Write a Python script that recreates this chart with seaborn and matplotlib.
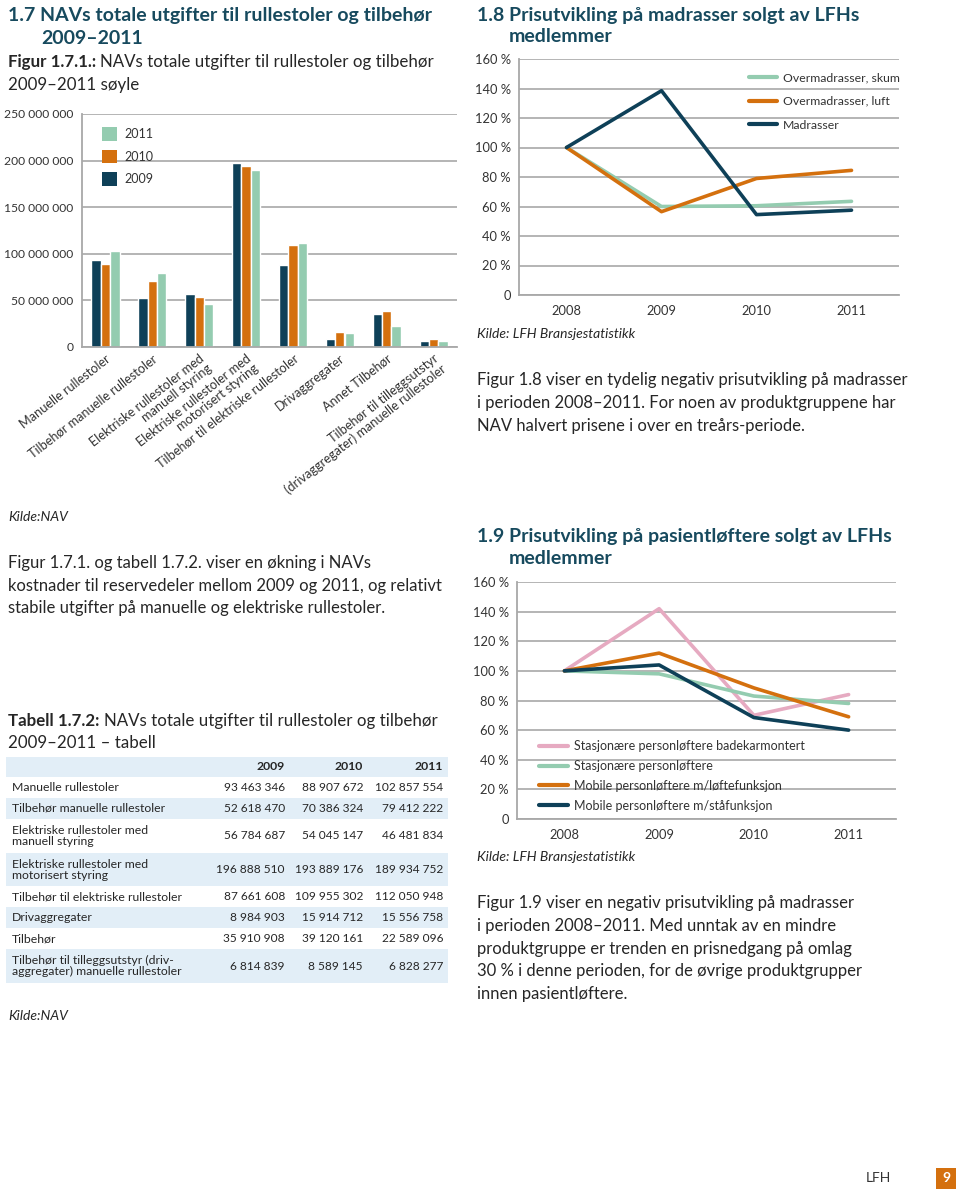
import numpy as np
import pandas as pd
import matplotlib
matplotlib.use("Agg")
import matplotlib.pyplot as plt
import seaborn as sns
from matplotlib.lines import Line2D
from matplotlib.patches import Rectangle
from matplotlib.ticker import FuncFormatter

sns.set_theme(style="white")
plt.rcParams["font.family"] = ["Lato", "DejaVu Sans"]

# ---------------- data ----------------
categories = [
    "Manuelle rullestoler",
    "Tilbehør manuelle rullestoler",
    "Elektriske rullestoler med\nmanuell styring",
    "Elektriske rullestoler med\nmotorisert styring",
    "Tilbehør til elektriske rullestoler",
    "Drivaggregater",
    "Annet Tilbehør",
    "Tilbehør til tilleggsutstyr\n(drivaggregater) manuelle rullestoler",
]
table_rows = [
    "Manuelle rullestoler",
    "Tilbehør manuelle rullestoler",
    "Elektriske rullestoler med\nmanuell styring",
    "Elektriske rullestoler med\nmotorisert styring",
    "Tilbehør til elektriske rullestoler",
    "Drivaggregater",
    "Tilbehør",
    "Tilbehør til tilleggsutstyr (driv-\naggregater) manuelle rullestoler",
]
bar_years = ["2009", "2010", "2011"]
v2009 = [93463346, 52618470, 56784687, 196888510, 87661608, 8984903, 35910908, 6814839]
v2010 = [88907672, 70386324, 54045147, 193889176, 109955302, 15914712, 39120161, 8589145]
v2011 = [102857554, 79412222, 46481834, 189934752, 112050948, 15556758, 22589096, 6828277]

line_years = ["2008", "2009", "2010", "2011"]
mad_names = ["Overmadrasser, skum", "Overmadrasser, luft", "Madrasser"]
mad_skum = [100, 60, 60.5, 63.5]
mad_luft = [100, 56.5, 79, 84.5]
madrasser = [100, 138.5, 54.5, 57.5]

loft_names = ["Stasjonære personløftere badekarmontert", "Stasjonære personløftere",
              "Mobile personløftere m/løftefunksjon", "Mobile personløftere m/ståfunksjon"]
loft_badekar = [100, 142, 70, 84]
loft_stasj = [100, 98, 83, 78]
loft_mob_lofte = [100, 112, 88.5, 69]
loft_mob_sta = [100, 104, 68.5, 60]

# ---------------- style ----------------
NAVY = "#0e4058"
ORANGE = "#d4700e"
GREEN = "#94ccb0"
PINK = "#e6aac1"
HEAD = "#174a5e"
TXT = "#262626"
GRID = "#a8a8a8"
ROWBG = "#e2eef7"

W, H = 960, 1193
fig = plt.figure(figsize=(W / 100, H / 100), dpi=100)
fig.patch.set_facecolor("white")
renderer = fig.canvas.get_renderer()


def ax_px(l, t, r, b):
    return fig.add_axes([l / W, 1 - b / H, (r - l) / W, (b - t) / H])


def txt(x, y, s, size=10.5, weight="normal", style="normal", color=TXT, ha="left"):
    return fig.text(x / W, 1 - y / H, s, fontsize=size, fontweight=weight,
                    fontstyle=style, color=color, ha=ha, va="center")


def rich(x, y, parts, size=10.5, color=TXT):
    cx = x
    for s, w in parts:
        t = txt(cx, y, s, size=size, weight=w, color=color)
        bb = t.get_window_extent(renderer=renderer)
        cx += bb.width


def style_axes(ax):
    for sp in ["top", "right"]:
        ax.spines[sp].set_visible(False)
    for sp in ["left", "bottom"]:
        ax.spines[sp].set_color(GRID)
        ax.spines[sp].set_linewidth(1.3)
    ax.grid(axis="y", color=GRID, lw=1.2)
    ax.grid(axis="x", visible=False)
    ax.set_axisbelow(True)
    ax.set_xlabel("")
    ax.set_ylabel("")
    ax.set_facecolor("white")


HS = 14.0   # heading size
FS = 12.2   # figure caption size
BS = 12.0   # body size
KS = 10.0   # source size

# ---------------- texts (left column) ----------------
txt(8, 16, "1.7 NAVs totale utgifter til rullestoler og tilbehør", size=HS, weight="bold", color=HEAD)
txt(41, 38, "2009–2011", size=HS, weight="bold", color=HEAD)
rich(8, 62, [("Figur 1.7.1.: ", "bold"), ("NAVs totale utgifter til rullestoler og tilbehør", "normal")], size=FS)
txt(8, 85, "2009–2011 søyle", size=FS)
txt(8, 517, "Kilde:NAV", size=KS, style="italic")
for i, line in enumerate(["Figur 1.7.1. og tabell 1.7.2. viser en økning i NAVs",
                          "kostnader til reservedeler mellom 2009 og 2011, og relativt",
                          "stabile utgifter på manuelle og elektriske rullestoler."]):
    txt(8, 563 + i * 22.5, line, size=BS)
rich(8, 721, [("Tabell 1.7.2: ", "bold"), ("NAVs totale utgifter til rullestoler og tilbehør", "normal")], size=FS)
txt(8, 743, "2009–2011 – tabell", size=FS)
txt(8, 1016, "Kilde:NAV", size=KS, style="italic")

# ---------------- texts (right column) ----------------
txt(477, 15, "1.8 Prisutvikling på madrasser solgt av LFHs", size=HS, weight="bold", color=HEAD)
txt(509, 37, "medlemmer", size=HS, weight="bold", color=HEAD)
txt(477, 334, "Kilde: LFH Bransjestatistikk", size=KS, style="italic")
for i, line in enumerate(["Figur 1.8 viser en tydelig negativ prisutvikling på madrasser",
                          "i perioden 2008–2011. For noen av produktgruppene har",
                          "NAV halvert prisene i over en treårs-periode."]):
    txt(477, 380 + i * 23, line, size=BS)
txt(477, 537, "1.9 Prisutvikling på pasientløftere solgt av LFHs", size=HS, weight="bold", color=HEAD)
txt(509, 559, "medlemmer", size=HS, weight="bold", color=HEAD)
txt(477, 857, "Kilde: LFH Bransjestatistikk", size=KS, style="italic")
for i, line in enumerate(["Figur 1.9 viser en negativ prisutvikling på madrasser",
                          "i perioden 2008–2011. Med unntak av en mindre",
                          "produktgruppe er trenden en prisnedgang på omlag",
                          "30 % i denne perioden, for de øvrige produktgrupper",
                          "innen pasientløftere."]):
    txt(477, 903 + i * 22.8, line, size=BS)

# footer
txt(878, 1178, "LFH", size=10, color="#333333", ha="center")
fig.patches.append(Rectangle((936 / W, 1 - 1189 / H), 20 / W, 21 / H, transform=fig.transFigure,
                             facecolor=ORANGE, edgecolor="none"))
txt(946, 1178, "9", size=10, weight="bold", color="white", ha="center")

# ---------------- bar chart ----------------
ax1 = ax_px(82, 114, 457, 347)
df_bar = pd.DataFrame({
    "kategori": categories * 3,
    "år": [y for y in bar_years for _ in categories],
    "verdi": v2009 + v2010 + v2011,
})
pal_bar = {"2009": NAVY, "2010": ORANGE, "2011": GREEN}
sns.barplot(data=df_bar, x="kategori", y="verdi", hue="år", hue_order=bar_years,
            palette=pal_bar, width=0.6, saturation=1, errorbar=None, legend=False, ax=ax1)
style_axes(ax1)
ax1.set_xlim(-0.5, len(categories) - 0.5)
ax1.set_ylim(0, 250e6)
ax1.set_yticks(np.arange(0, 250e6 + 1, 50e6))
ax1.yaxis.set_major_formatter(FuncFormatter(
    lambda v, p: "0" if v == 0 else f"{int(v):,}".replace(",", " ")))
ax1.set_xticks(range(len(categories)))
ax1.set_xticklabels(categories, rotation=38, ha="right", rotation_mode="anchor",
                    fontsize=9.2, color="#333333", linespacing=1.0)
ax1.set_xticks(np.arange(-0.5, len(categories)), minor=True)
ax1.tick_params(axis="x", which="major", length=0, pad=4)
ax1.tick_params(axis="x", which="minor", direction="in", length=5, color=GRID, width=1.2)
ax1.tick_params(axis="y", length=0, labelsize=8.7, labelcolor="#333333", pad=6)
leg_handles = [Rectangle((0, 0), 1, 1, facecolor=pal_bar[y], edgecolor="none") for y in ["2011", "2010", "2009"]]
ax1.legend(leg_handles, ["2011", "2010", "2009"], loc="upper left",
           bbox_to_anchor=(91 / W, 1 - 116 / H), bbox_transform=fig.transFigure,
           frameon=False, handlelength=1.15, handleheight=1.3, handletextpad=0.6,
           labelspacing=0.7, fontsize=9, labelcolor="#333333")


# ---------------- line charts ----------------
def line_chart(ax, names, vals, colors):
    df = pd.DataFrame({
        "x": list(range(len(line_years))) * len(names),
        "serie": [n for n in names for _ in line_years],
        "verdi": sum(vals, []),
    })
    sns.lineplot(data=df, x="x", y="verdi", hue="serie", hue_order=names,
                 palette=dict(zip(names, colors)), lw=2.6, legend=False, ax=ax, sort=False)
    style_axes(ax)
    ax.set_xlim(-0.5, len(line_years) - 0.5)
    ax.set_ylim(0, 160)
    ax.set_yticks(np.arange(0, 161, 20))
    ax.yaxis.set_major_formatter(FuncFormatter(lambda v, p: "0" if v == 0 else f"{int(v)} %"))
    ax.set_xticks(range(len(line_years)))
    ax.set_xticklabels(line_years)
    ax.set_xticks(np.arange(-0.5, len(line_years)), minor=True)
    ax.tick_params(axis="x", which="major", length=0, pad=7, labelsize=9.3, labelcolor="#333333")
    ax.tick_params(axis="x", which="minor", direction="in", length=5, color=GRID, width=1.2)
    ax.tick_params(axis="y", length=0, labelsize=9.3, labelcolor="#333333", pad=6)


ax2 = ax_px(519, 59, 899, 295)
mad_colors = [GREEN, ORANGE, NAVY]
line_chart(ax2, mad_names, [mad_skum, mad_luft, madrasser], mad_colors)
ax2.legend([Line2D([], [], color=c, lw=3) for c in mad_colors], mad_names,
           loc="upper left", bbox_to_anchor=(738 / W, 1 - 61 / H), bbox_transform=fig.transFigure,
           frameon=False, handlelength=2.3, handletextpad=0.5, labelspacing=1.05,
           fontsize=8.8, labelcolor="#333333")

ax3 = ax_px(517, 582, 896, 819)
loft_colors = [PINK, GREEN, ORANGE, NAVY]
line_chart(ax3, loft_names, [loft_badekar, loft_stasj, loft_mob_lofte, loft_mob_sta], loft_colors)
ax3.legend([Line2D([], [], color=c, lw=3) for c in loft_colors], loft_names,
           loc="upper left", bbox_to_anchor=(528 / W, 1 - 729 / H), bbox_transform=fig.transFigure,
           frameon=False, handlelength=2.3, handletextpad=0.5, labelspacing=0.62,
           fontsize=9, labelcolor="#333333")

# ---------------- table ----------------
axt = ax_px(6, 757, 448, 983)
axt.axis("off")
header_h = 20
row_h = [21 if "\n" not in r else 34 for r in table_rows]
total_h = header_h + sum(row_h)
axt.set_xlim(0, 442)
axt.set_ylim(total_h, 0)
col_right = [279, 357, 437]
axt.add_patch(Rectangle((0, 0), 442, header_h, facecolor=ROWBG, edgecolor="none"))
for j, yr in enumerate(bar_years):
    axt.text(col_right[j], header_h / 2, yr, ha="right", va="center", fontsize=8.8,
             fontweight="bold", color=TXT)
y0 = header_h
cols = [v2009, v2010, v2011]
for i, lab in enumerate(table_rows):
    h = row_h[i]
    if i % 2 == 1:
        axt.add_patch(Rectangle((0, y0), 442, h, facecolor=ROWBG, edgecolor="none"))
    axt.text(6, y0 + h / 2, lab, ha="left", va="center", fontsize=8.8, color=TXT, linespacing=1.0)
    for j in range(3):
        axt.text(col_right[j], y0 + h / 2, f"{cols[j][i]:,}".replace(",", " "),
                 ha="right", va="center", fontsize=8.6, color=TXT)
    y0 += h

fig.savefig("out.png", dpi=100, facecolor="white")
